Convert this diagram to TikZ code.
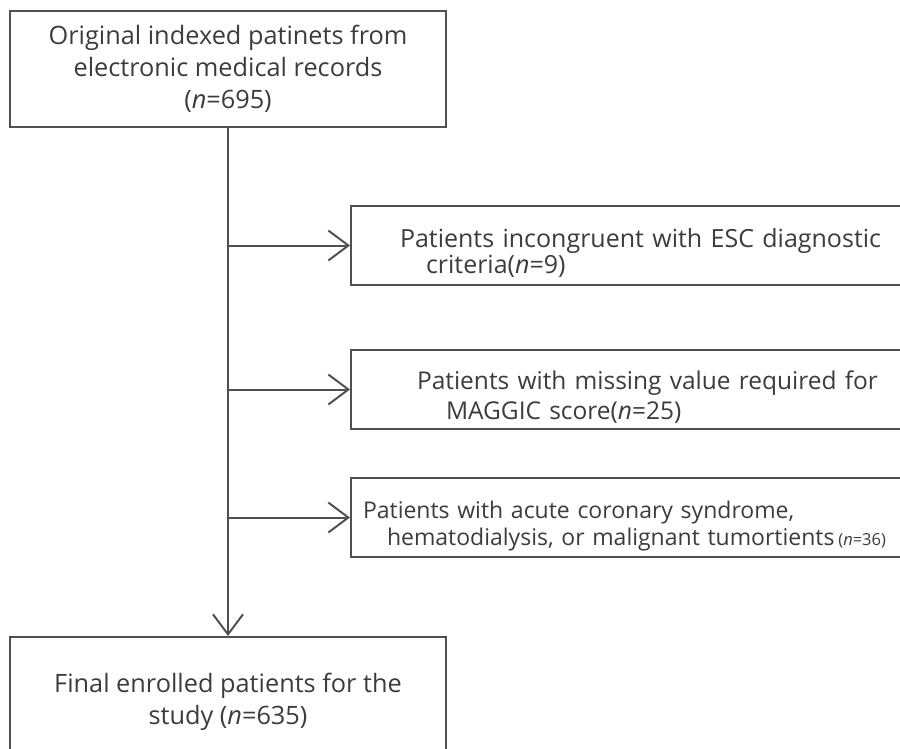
\documentclass[tikz,border=0pt]{standalone}
\usepackage{fontspec}
\setmainfont{Open Sans}
\usetikzlibrary{arrows.meta,positioning}
\definecolor{linegray}{HTML}{505050}
\definecolor{textgray}{HTML}{3C3C3C}
\newcommand{\nn}{\textit{n}}

\begin{document}
\begin{tikzpicture}[x=1pt,y=-1pt,
	box/.style={draw=linegray, line width=2pt, text=textgray, font=\fontsize{25.3}{32}\selectfont},
	sidebox/.style={box, anchor=west, minimum height=79pt, text width=700pt, text height=34pt, align=left},
	>={Straight Barb[length=20pt,width=30pt]}]
	\clip (0,0) rectangle (900,749);
	\node[box, minimum width=436pt, minimum height=116pt, align=center] (orig) at (228,69) {Original indexed patinets from\\electronic medical records\\(\nn=695)};
	\node[box, minimum width=436pt, minimum height=130pt, align=center] (final) at (228,702) {Final enrolled patients for the\\study (\nn=635)};
	
	\node[sidebox, inner xsep=49pt, font=\fontsize{25}{21}\selectfont] (excl1) at (350,245.5) {Patients incongruent with ESC diagnostic\\\hspace*{26pt}criteria(\nn=9)};
	\node[sidebox, inner xsep=66pt, font=\fontsize{24.5}{30}\selectfont] (excl2) at (350,389.5) {Patients with missing value required for\\\hspace*{29pt}MAGGIC score(\nn=25)};
	\node[sidebox, inner xsep=12pt, font=\fontsize{23}{27}\selectfont] (excl3) at (350,517.5) {Patients with acute coronary syndrome,\\\hspace*{24pt}hematodialysis, or malignant tumortients\,{\fontsize{16.5}{16.5}\selectfont(\nn=36)}};
	
	\coordinate (b1) at (orig.south |- excl1.west);
	\coordinate (b2) at (orig.south |- excl2.west);
	\coordinate (b3) at (orig.south |- excl3.west);
	
	\draw[->, linegray, line width=2pt] (orig) -- (final);
	\draw[->, linegray, line width=2pt] (b1) -- (excl1);
	\draw[->, linegray, line width=2pt] (b2) -- (excl2);
	\draw[->, linegray, line width=2pt] (b3) -- (excl3);
\end{tikzpicture}
\end{document}
